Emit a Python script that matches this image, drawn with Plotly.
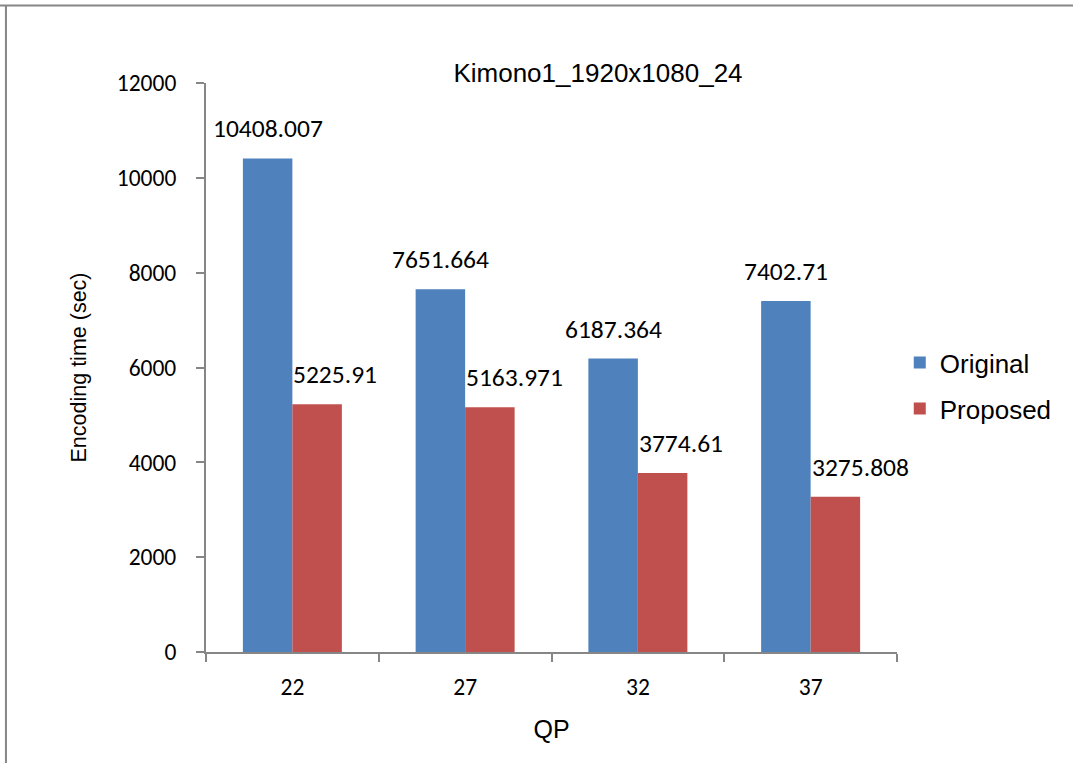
import plotly.graph_objects as go

# Encoding time per QP for the Kimono1 sequence
qp_values = ["22", "27", "32", "37"]
original_sec = [10408.007, 7651.664, 6187.364, 7402.71]
proposed_sec = [5225.91, 5163.971, 3774.61, 3275.808]
original_labels = ["10408.007", "7651.664", "6187.364", "7402.71"]
proposed_labels = ["5225.91", "5163.971", "3774.61", "3275.808"]
y_ticks = [0, 2000, 4000, 6000, 8000, 10000, 12000]

BLUE = "#4F81BD"
RED = "#C0504D"
AXIS_GREY = "#868686"
ARIAL = "Arial, Liberation Sans, sans-serif"
CALIBRI = "Calibri, Carlito, Lato, sans-serif"
BARGAP = 0.427

fig = go.Figure()
fig.add_trace(go.Bar(x=qp_values, y=original_sec, name="Original",
                     marker=dict(color=BLUE, line=dict(width=0)),
                     legendgroup="o"))
fig.add_trace(go.Bar(x=qp_values, y=proposed_sec, name="Proposed",
                     marker=dict(color=RED, line=dict(width=0)),
                     legendgroup="p"))

# Value labels above each bar (category index +/- half a bar width)
bar_w = (1 - BARGAP) / 2
for i, (v, t) in enumerate(zip(original_sec, original_labels)):
    fig.add_annotation(x=i - bar_w / 2, y=v, xref="x", yref="y", text=t,
                       showarrow=False, xanchor="center", yanchor="bottom",
                       yshift=12, font=dict(family=CALIBRI, size=25.5, color="#000"))
for i, (v, t) in enumerate(zip(proposed_sec, proposed_labels)):
    fig.add_annotation(x=i, y=v, xref="x", yref="y", text=t,
                       showarrow=False, xanchor="left", yanchor="bottom",
                       xshift=-1, yshift=12, font=dict(family=CALIBRI, size=25.5, color="#000"))

# Outer frame of the chart area (top and left edges)
fig.add_shape(type="line", xref="paper", yref="paper",
              x0=-0.30, x1=1.30, y0=1.136, y1=1.136,
              line=dict(color=AXIS_GREY, width=2))
fig.add_shape(type="line", xref="paper", yref="paper",
              x0=-0.2895, x1=-0.2895, y0=1.136, y1=-0.30,
              line=dict(color=AXIS_GREY, width=2))

fig.update_layout(
    width=1073, height=763,
    margin=dict(l=206, r=176, t=83, b=111, autoexpand=False),
    paper_bgcolor="white", plot_bgcolor="white",
    barmode="group", bargap=BARGAP, bargroupgap=0,
    title=dict(text="Kimono1_1920x1080_24", x=598 / 1073, y=1 - 73 / 763,
               xanchor="center", yanchor="middle",
               font=dict(family=ARIAL, size=26, color="#000")),
    legend=dict(x=1.004, y=0.468, xanchor="left", yanchor="middle",
                traceorder="grouped", tracegroupgap=9,
                font=dict(family=ARIAL, size=26, color="#000"),
                bgcolor="rgba(0,0,0,0)"),
    showlegend=True,
)

fig.update_xaxes(
    type="category", range=[-0.5, len(qp_values) - 0.5],
    showgrid=False, zeroline=False,
    showline=True, linecolor=AXIS_GREY, linewidth=2,
    ticks="outside", tickson="boundaries", ticklen=8, tickwidth=2,
    tickcolor=AXIS_GREY, ticklabelstandoff=13,
    tickfont=dict(family=CALIBRI, size=23.5, color="#000"),
    title=dict(text="QP", standoff=20, font=dict(family=ARIAL, size=25, color="#000")),
)
fig.update_yaxes(
    range=[0, 12000], tickvals=y_ticks, tickformat="d",
    showgrid=False, zeroline=False,
    showline=True, linecolor=AXIS_GREY, linewidth=2,
    ticks="outside", ticklen=8, tickwidth=2, tickcolor=AXIS_GREY,
    ticklabelstandoff=15,
    tickfont=dict(family=CALIBRI, size=23.5, color="#000"),
    title=dict(text="Encoding time (sec)", standoff=24,
               font=dict(family=ARIAL, size=21.5, color="#000")),
)

fig.write_html("out.html")
